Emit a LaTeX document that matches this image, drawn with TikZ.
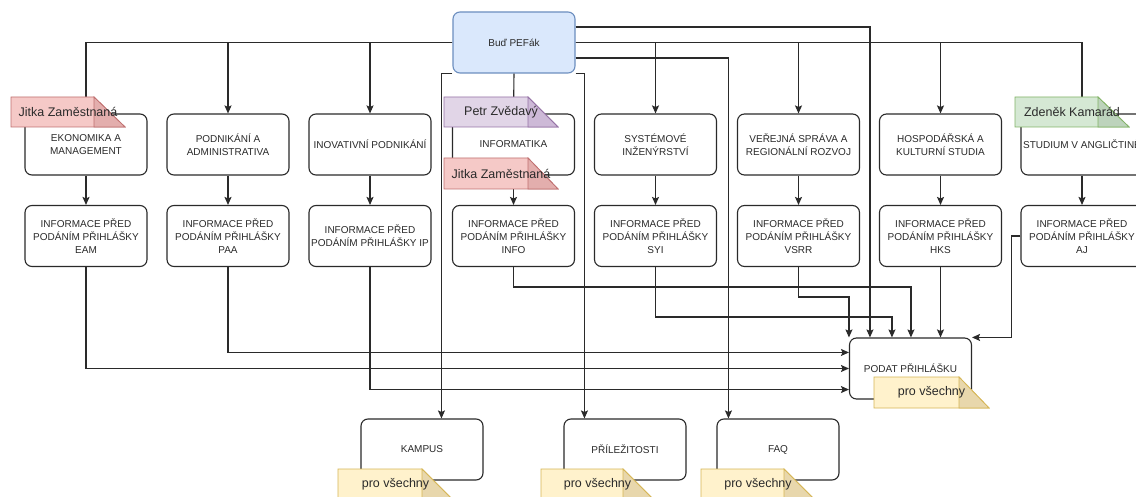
\documentclass[tikz,border=0pt]{standalone}
\usepackage{fontspec}
\setmainfont{Liberation Sans}
\usetikzlibrary{arrows.meta,calc}
\definecolor{ln}{HTML}{2A2A2A}
\definecolor{pefF}{HTML}{DAE8FC}
\definecolor{pefL}{HTML}{6C8EBF}
\definecolor{pinkF}{HTML}{F5C9C7}
\definecolor{pinkD}{HTML}{E3AEAD}
\definecolor{pinkL}{HTML}{C07070}
\definecolor{purpF}{HTML}{E1D5E7}
\definecolor{purpD}{HTML}{CDB9D7}
\definecolor{purpL}{HTML}{9673A6}
\definecolor{greenF}{HTML}{D5E8D4}
\definecolor{greenD}{HTML}{BDD3BC}
\definecolor{greenL}{HTML}{82B366}
\definecolor{yelF}{HTML}{FFF2CC}
\definecolor{yelD}{HTML}{E8D7AC}
\definecolor{yelL}{HTML}{D6B656}
\newcommand{\stickynote}[8]{%
  \filldraw[fill=#7F, draw=#7L, line width=0.8pt] (#2,#3) -- (#4,#3) -- (#5,#6) -- (#2,#6) -- cycle;
  \filldraw[fill=#7D, draw=#7L, line width=0.8pt] (#4,#3) -- (#5,#6) -- (#4,#6) -- cycle;
  \node[notetext] (#1) at ({(#2+#5)/2},{(#3+#6)/2}) {#8};
}
\begin{document}
\begin{tikzpicture}[x=1pt,y=-1pt,
  box/.style={draw=ln, line width=1.1pt, rounded corners=7pt, fill=white,
    minimum width=122pt, minimum height=61pt, align=center,
    font=\fontsize{10}{13.3}\selectfont, text=ln, inner sep=1pt},
  arr/.style={draw=ln, line width=1.1pt, -{Stealth[length=8pt,width=7pt,inset=1.5pt]}},
  notetext/.style={font=\fontsize{12.5}{14}\selectfont, text=ln, inner sep=0pt}]
\useasboundingbox (0,0) rectangle (1136,497);
\fill[white] (0,0) rectangle (1136,497);

% top node
\node[box, fill=pefF, draw=pefL] (pef) at (514,42.5) {Buď PEFák};

% row 1
\node[box] (eam)  at (86,144.5)    {EKONOMIKA A\\MANAGEMENT};
\node[box] (paa)  at (228,144.5)   {PODNIKÁNÍ A\\ADMINISTRATIVA};
\node[box] (ip)   at (370,144.5)   {INOVATIVNÍ PODNIKÁNÍ};
\node[box] (info) at (513.5,144.5) {INFORMATIKA};
\node[box] (syi)  at (655.5,144.5) {SYSTÉMOVÉ\\INŽENÝRSTVÍ};
\node[box] (vsrr) at (798.5,144.5) {VEŘEJNÁ SPRÁVA A\\REGIONÁLNÍ ROZVOJ};
\node[box] (hks)  at (940.5,144.5) {HOSPODÁŘSKÁ A\\KULTURNÍ STUDIA};
\node[box] (aj)   at (1082,144.5)  {STUDIUM V ANGLIČTINĚ};

% row 2
\node[box] (eaminfo)  at (86,236)    {INFORMACE PŘED\\PODÁNÍM PŘIHLÁŠKY\\EAM};
\node[box] (paainfo)  at (228,236)   {INFORMACE PŘED\\PODÁNÍM PŘIHLÁŠKY\\PAA};
\node[box] (ipinfo)   at (370,236)   {INFORMACE PŘED\\PODÁNÍM PŘIHLÁŠKY IP};
\node[box] (infoinfo) at (513.5,236) {INFORMACE PŘED\\PODÁNÍM PŘIHLÁŠKY\\INFO};
\node[box] (syiinfo)  at (655.5,236) {INFORMACE PŘED\\PODÁNÍM PŘIHLÁŠKY\\SYI};
\node[box] (vsrrinfo) at (798.5,236) {INFORMACE PŘED\\PODÁNÍM PŘIHLÁŠKY\\VSRR};
\node[box] (hksinfo)  at (940.5,236) {INFORMACE PŘED\\PODÁNÍM PŘIHLÁŠKY\\HKS};
\node[box] (ajinfo)   at (1082,236)  {INFORMACE PŘED\\PODÁNÍM PŘIHLÁŠKY\\AJ};

% apply + bottom
\node[box] (podat)  at (910.5,368.5) {PODAT PŘIHLÁŠKU};
\node[box] (kampus) at (422,449.5)   {KAMPUS};
\node[box] (pril)   at (625,449.5)   {PŘÍLEŽITOSTI};
\node[box] (faq)    at (778,449.5)   {FAQ};

% edges from top node
\draw[arr] (pef.west) -| (eam.north);
\draw[arr] (pef.west) -| (paa.north);
\draw[arr] (pef.west) -| (ip.north);
\draw[arr] (pef.south) -- (info.north);
\draw[arr] (pef.east) -| (syi.north);
\draw[arr] (pef.east) -| (vsrr.north);
\draw[arr] (pef.east) -| (hks.north);
\draw[arr] (pef.east) -| (aj.north);
\draw[arr] ($(pef.east)+(0,-15.5)$) -| ($(podat.north west)+(21,0)$);
\draw[arr] ($(pef.east)+(0,15.5)$) -| ($(faq.north west)+(12,0)$);
\draw[arr] (pef.south west) -| ($(kampus.north west)+(81,0)$);
\draw[arr] (pef.south east) -| ($(pril.north west)+(21,0)$);

% row 1 -> row 2
\foreach \a in {eam,paa,ip,info,syi,vsrr,hks,aj}
  \draw[arr] (\a) -- (\a info);

% row 2 -> apply
\draw[arr] (eaminfo.south) |- (podat.west);
\draw[arr] (paainfo.south) |- ($(podat.north west)+(0,15)$);
\draw[arr] (ipinfo.south) |- ($(podat.south west)+(0,-10)$);
\draw[arr] (infoinfo.south) -- ++(0,20) -| ($(podat.north west)+(62,0)$);
\draw[arr] (syiinfo.south) -- ++(0,50) -| ($(podat.north west)+(43,0)$);
\draw[arr] (vsrrinfo.south) -- ++(0,30) -| (podat.north west);
\draw[arr] (hksinfo.south) -- (hksinfo.south |- podat.north);
\draw[arr] (ajinfo.west) -- ++(-9,0) |- (podat.north east);

% notes
\stickynote{n1}{11}{97}{94}{125}{127}{pink}{Jitka Zaměstnaná}
\stickynote{n2}{444}{97}{528}{558}{127}{purp}{Petr Zvědavý}
\stickynote{n3}{444}{158}{528}{558}{189}{pink}{Jitka Zaměstnaná}
\stickynote{n4}{1015}{97}{1098}{1129}{127}{green}{Zdeněk Kamarád}
\stickynote{n5}{874}{377}{959}{989}{408}{yel}{pro všechny}
\stickynote{n6}{338}{469}{422}{453}{500}{yel}{pro všechny}
\stickynote{n7}{541}{469}{623}{654}{500}{yel}{pro všechny}
\stickynote{n8}{701}{469}{784}{815}{500}{yel}{pro všechny}
\end{tikzpicture}
\end{document}
